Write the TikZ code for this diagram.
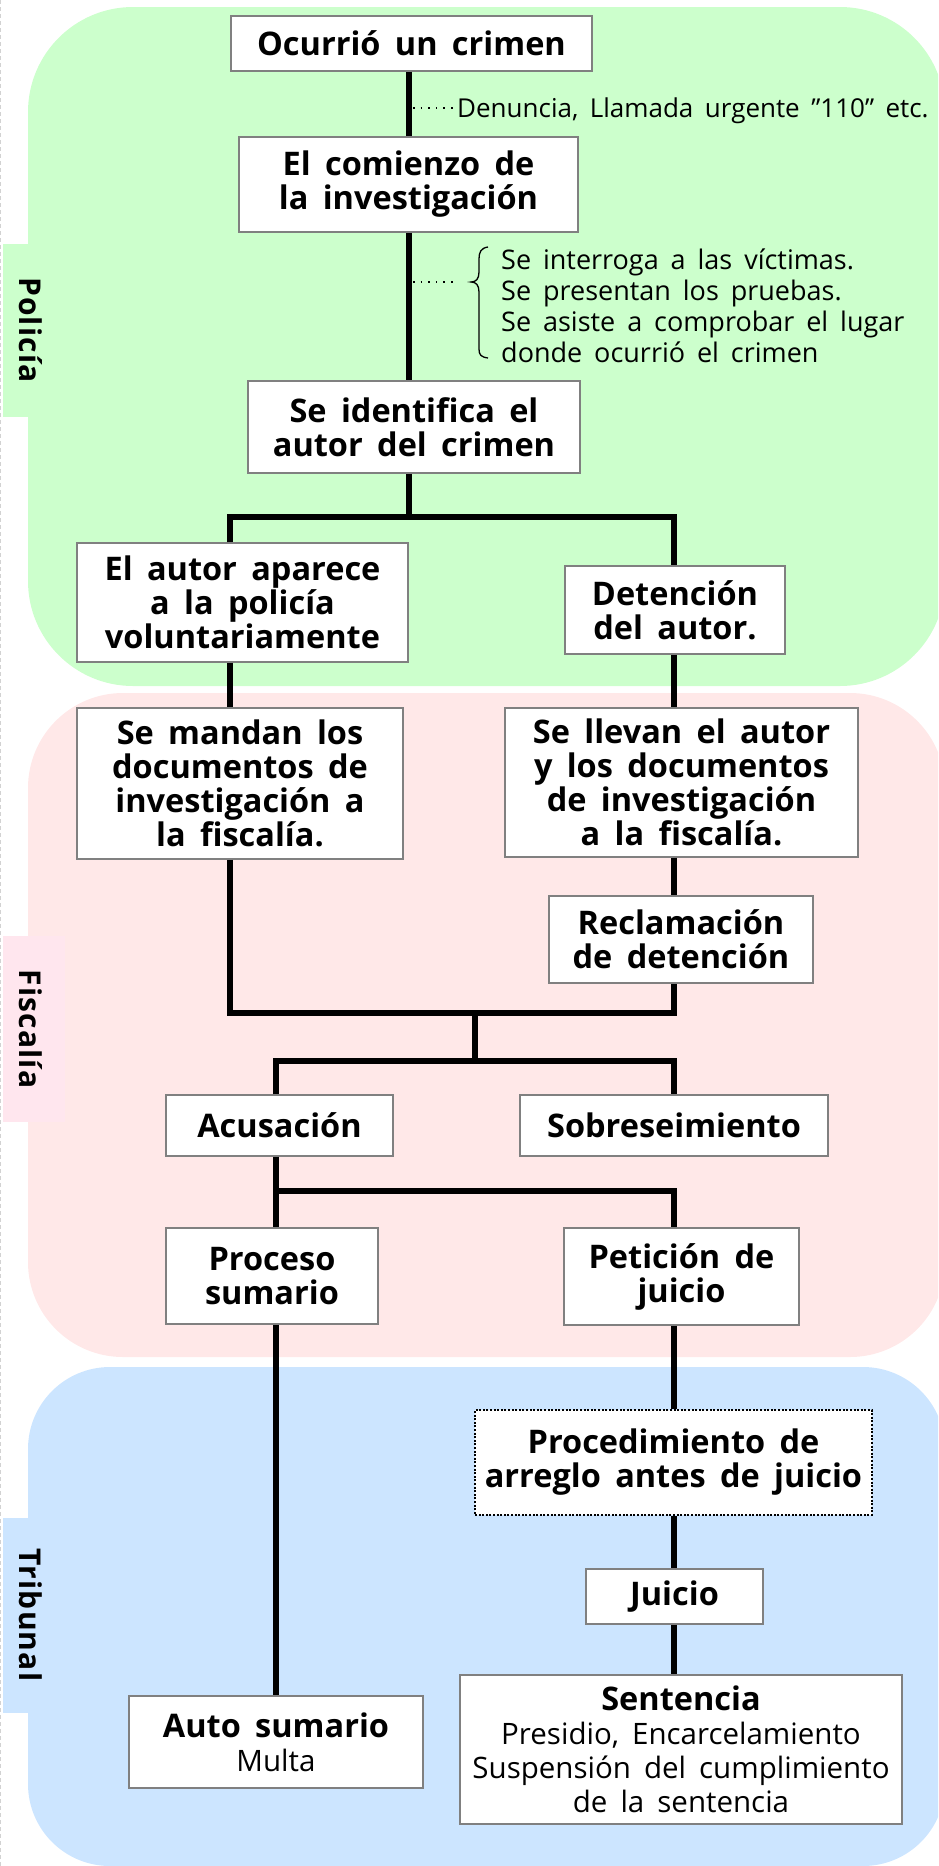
\documentclass[tikz,border=0pt]{standalone}
\usepackage{fontspec}
\setmainfont{Open Sans}[WordSpace=1.7]
\definecolor{polg}{HTML}{CCFFCC}
\definecolor{fisp}{HTML}{FFE8E8}
\definecolor{fist}{HTML}{FFE6EE}
\definecolor{tribb}{HTML}{CCE5FF}
\definecolor{bordergray}{HTML}{808080}
\newcommand{\lightline}{\mdseries\fontsize{29.5}{31.5}\selectfont}
\begin{document}
\begin{tikzpicture}[x=1pt,y=-1pt,
  box/.style={draw=bordergray, line width=1.5pt, fill=white, align=center, inner sep=0pt,
    font=\fontsize{32.5}{34}\selectfont\bfseries},
  dotbox/.style={box, draw=black, line width=2pt, dash pattern=on 2pt off 1.6pt},
  wire/.style={line width=6pt, line join=miter},
  leader/.style={line width=1.6pt, dash pattern=on 1.6pt off 6pt},
  note/.style={anchor=base west, inner sep=0pt, font=\fontsize{27}{31}\selectfont},
  tablabel/.style={rotate=-90, inner sep=0pt, font=\fontsize{30}{30}\selectfont\bfseries\addfontfeatures{LetterSpace=4}}]
\useasboundingbox (0,0) rectangle (938,1866);
\clip (0,0) rectangle (938,1866);
% regions
\fill[polg, rounded corners=105pt] (28,7) rectangle (945,686);
\fill[fisp, rounded corners=95pt] (28,693) rectangle (945,1357);
\fill[tribb, rounded corners=82pt] (28,1367) rectangle (945,1866);
\draw[gray!35, line width=1pt, dash pattern=on 4pt off 3pt] (0.8,0) -- (0.8,1866);
% tabs
\fill[polg] (3,244) rectangle (28,417);
\fill[fist] (3,936) rectangle (65,1122);
\fill[tribb] (3,1518) rectangle (28,1713);
\node[tablabel] (tpol) at (31,330) {Policía};
\node[tablabel] (tfis) at (31,1029) {Fiscalía};
\node[tablabel] (ttri) at (31,1615) {Tribunal};
% guide coordinates
\coordinate (S) at (408.5,0);
\coordinate (L) at (230,0);
\coordinate (R) at (674,0);
\coordinate (L2) at (276,0);
\coordinate (M) at (475,0);
\coordinate (J1) at (0,517);
\coordinate (J2) at (0,1013);
\coordinate (J3) at (0,1061);
\coordinate (J4) at (0,1191);
% boxes
\node[box, minimum width=361, minimum height=55] (n1) at (411.5,43.5) {Ocurrió un crimen};
\node[box, minimum width=339, minimum height=95] (n2) at (408.5,184.5) {El comienzo de\\la investigación};
\node[box, minimum width=332, minimum height=92] (n3) at (414,427) {Se identifica el\\autor del crimen};
\node[box, minimum width=331, minimum height=119] (n5) at (242.5,602.5) {El autor aparece\\a la policía\\voluntariamente};
\node[box, minimum width=220, minimum height=88] (n6) at (675,610) {Detención\\del autor.};
\node[box, minimum width=326, minimum height=151] (n7) at (240,783.5) {Se mandan los\\documentos de\\investigación a\\la fiscalía.};
\node[box, minimum width=353, minimum height=149] (n8) at (681.5,782.5) {Se llevan el autor\\y los documentos\\de investigación\\a la fiscalía.};
\node[box, minimum width=264, minimum height=87] (n9) at (681,939.5) {Reclamación\\de detención};
\node[box, minimum width=227, minimum height=61] (n10) at (279.5,1125.5) {Acusación};
\node[box, minimum width=308, minimum height=61] (n11) at (674,1125.5) {Sobreseimiento};
\node[box, minimum width=212, minimum height=96] (n12) at (272,1276) {Proceso\\sumario};
\node[box, minimum width=235, minimum height=97] (n13) at (681.5,1276.5) {Petición de\\juicio};
\node[box, minimum width=294, minimum height=92] (n14) at (276,1742) {Auto sumario\\\mdseries\fontsize{29.5}{38}\selectfont Multa};
\node[dotbox, minimum width=397, minimum height=105] (n15) at (673.5,1462.5) {Procedimiento de\\arreglo antes de juicio};
\node[box, minimum width=177, minimum height=55] (n16) at (674.5,1596.5) {Juicio};
\node[box, minimum width=442, minimum height=149] (n17) at (681,1749.5) {Sentencia\\\lightline Presidio, Encarcelamiento\\\lightline Suspensión del cumplimiento\\\lightline de la sentencia};
% connectors
\draw[wire] (n1.south -| S) -- (n2.north -| S);
\draw[wire] (n2.south -| S) -- (n3.north -| S);
\draw[wire] (n3.south -| S) -- (S |- J1);
\draw[wire] (n5.north -| L) -- (L |- J1) -- (R |- J1) -- (n6.north -| R);
\draw[wire] (n5.south -| L) -- (n7.north -| L);
\draw[wire] (n6.south -| R) -- (n8.north -| R);
\draw[wire] (n8.south -| R) -- (n9.north -| R);
\draw[wire] (n7.south -| L) -- (L |- J2) -- (R |- J2) -- (n9.south -| R);
\draw[wire] (M |- J2) -- (M |- J3);
\draw[wire] (n10.north -| L2) -- (L2 |- J3) -- (R |- J3) -- (n11.north -| R);
\draw[wire] (n10.south -| L2) -- (L2 |- J4) -- (R |- J4) -- (n13.north -| R);
\draw[wire] (L2 |- J4) -- (n12.north -| L2);
\draw[wire] (n12.south -| L2) -- (n14.north -| L2);
\draw[wire] (n13.south -| R) -- (n15.north -| R);
\draw[wire] (n15.south -| R) -- (n16.north -| R);
\draw[wire] (n16.south -| R) -- (n17.north -| R);
% annotations
\node[note, font=\fontsize{26}{30}\selectfont] (a1) at (457,117) {Denuncia, Llamada urgente ”110” etc.};
\coordinate (d1) at (413,108);
\draw[leader] (d1) -- (a1.west |- d1);
\node[note] (t1) at (501,269) {Se interroga a las víctimas.};
\node[note] (t2) at (501,300) {Se presentan los pruebas.};
\node[note] (t3) at (501,331) {Se asiste a comprobar el lugar};
\node[note] (t4) at (501,362) {donde ocurrió el crimen};
\coordinate (d2) at (413,282);
\coordinate (d2e) at (458,282);
\draw[leader] (d2) -- (d2e);
\draw[line width=1.3pt] (488,247) .. controls (481,248) and (479,252) .. (479,259) -- (479,272) .. controls (479,279) and (476,282) .. (471,282) .. controls (476,282) and (479,285) .. (479,292) -- (479,349) .. controls (479,355) and (481,357) .. (488,358);
\end{tikzpicture}
\end{document}
